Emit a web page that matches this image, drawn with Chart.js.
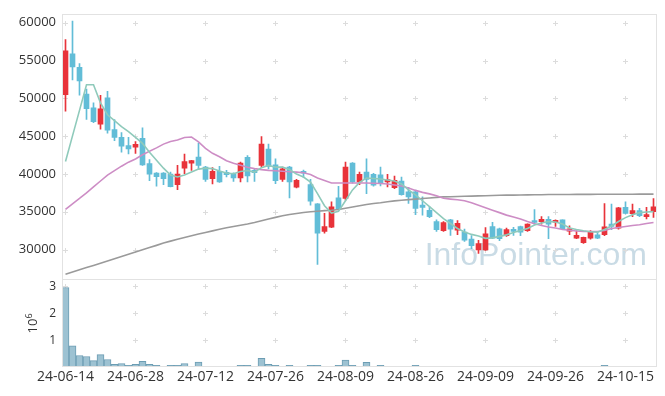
<!DOCTYPE html>
<html>
<head>
<meta charset="utf-8">
<script src="https://cdn.jsdelivr.net/npm/chart.js@4.4.1/dist/chart.umd.min.js"></script>
<style>
  html, body { margin: 0; padding: 0; background: #fff; }
  canvas { display: block; }
</style>
</head>
<body>
<canvas id="chart" width="665" height="396"></canvas>
<script>
// trading days, 24-06-14 .. 24-10-21
const dates = [
  '24-06-14','24-06-17','24-06-18','24-06-19','24-06-20','24-06-21','24-06-24','24-06-25','24-06-26','24-06-27','24-06-28',
  '24-07-01','24-07-02','24-07-03','24-07-04','24-07-05','24-07-08','24-07-09','24-07-10','24-07-11','24-07-12',
  '24-07-15','24-07-16','24-07-17','24-07-18','24-07-19','24-07-22','24-07-23','24-07-24','24-07-25','24-07-26',
  '24-07-29','24-07-30','24-07-31','24-08-01','24-08-02','24-08-05','24-08-06','24-08-07','24-08-08','24-08-09',
  '24-08-12','24-08-13','24-08-14','24-08-16','24-08-19','24-08-20','24-08-21','24-08-22','24-08-23','24-08-26',
  '24-08-27','24-08-28','24-08-29','24-08-30','24-09-02','24-09-03','24-09-04','24-09-05','24-09-06','24-09-09',
  '24-09-10','24-09-11','24-09-12','24-09-13','24-09-19','24-09-20','24-09-23','24-09-24','24-09-25','24-09-26',
  '24-09-27','24-09-30','24-10-02','24-10-04','24-10-07','24-10-08','24-10-10','24-10-11','24-10-14','24-10-15',
  '24-10-16','24-10-17','24-10-18','24-10-21'
];

const openPx = [
  50490,55900,54110,50580,48750,46570,50060,45870,44830,43740,
  43560,44700,41390,40120,40120,39990,38590,40770,41430,42250,
  40900,39370,40340,40210,40030,39470,42210,40470,41130,43300,
  41200,39290,40900,38250,40250,38590,36060,32400,32960,36850,
  36760,41430,38940,40250,39950,39900,38940,38200,39070,37630,
  37630,35890,35200,33710,32490,33930,32570,32310,31390,29960,
  29960,33060,32760,31840,32660,33060,32490,33840,33710,34010,
  33620,33930,32440,31520,30920,31520,31970,31970,33360,32830,
  35580,34760,35150,34360,35020
];
const highPx = [
  57780,60220,54600,51240,49400,50410,50940,47180,45480,44830,
  44270,46100,41910,40200,40200,40250,41130,42640,41800,44080,
  41000,40860,41000,40470,40150,41560,42430,40600,44960,43950,
  41990,40900,41000,39300,40500,39290,36100,34800,36330,38380,
  41560,41500,40250,41990,40100,40900,39950,39730,39600,38250,
  37860,36980,35670,33930,33710,34000,33840,32700,31840,31220,
  32920,33620,32840,32830,32960,33100,33400,35280,34360,34360,
  33950,33950,33150,32490,31650,32530,32400,36100,36020,35600,
  36330,36020,35450,35580,36760
];
const lowPx = [
  48320,52450,50410,47220,46790,45910,45390,44400,42870,42640,
  42730,41130,39110,38380,38590,38290,37930,40030,40470,40680,
  39030,38680,38900,39600,39030,38940,38940,39030,40900,40680,
  38720,39000,36850,38150,39550,35890,28050,32180,32900,35240,
  36550,38800,38590,37410,38400,38420,38290,38070,37200,36100,
  34630,34560,34230,32400,32400,31880,31970,31090,30130,29480,
  29900,31450,31180,31750,31880,31840,32400,33360,33360,31450,
  33060,32700,31970,31450,30830,31390,31450,31840,32620,32700,
  34720,34360,34360,34060,34270
];
const closePx = [
  56300,54150,52320,48620,46920,48620,45780,44830,43690,43300,
  43910,41200,39990,39630,39370,38330,39990,41650,41780,41130,
  39290,40340,38940,39900,39470,41430,39730,40160,43950,41000,
  39110,40680,38940,39160,40100,36420,32180,33060,35670,35370,
  40900,38940,39950,39290,38510,38750,39270,39160,37280,36980,
  35450,35580,34360,32620,33580,32700,33490,31260,30530,30790,
  32100,31520,31450,32660,32400,32310,33360,33580,34010,33360,
  33880,32760,32760,31880,31620,32400,31520,33020,33060,35540,
  34800,35150,34490,34530,35670
];

// volume, millions of shares
const volume = [
  2.96,0.79,0.43,0.39,0.24,0.46,0.28,0.10,0.13,0.06,
  0.10,0.21,0.10,0.06,0.02,0.06,0.06,0.13,0.02,0.18,
  0.02,0.02,0.02,0.02,0.02,0.06,0.06,0.02,0.32,0.10,
  0.06,0.02,0.06,0.02,0.02,0.06,0.06,0.02,0.02,0.06,
  0.26,0.06,0.02,0.17,0.02,0.06,0.02,0,0.02,0.02,
  0.06,0.02,0.02,0.02,0,0,0,0.02,0,0.02,
  0.02,0.02,0,0,0,0,0,0.02,0,0,
  0,0,0,0,0,0,0,0.06,0.02,0.02,
  0.02,0,0,0,0.02
];

// moving averages as drawn on the reference
const ma5 = [
  41650,45040,48410,51800,51800,49400,47830,47050,46270,45610,
  44830,44040,42870,41820,40770,39860,39600,39860,40250,40640,
  40770,40710,40380,40120,40030,40320,40450,40250,40840,41130,
  40900,40900,40580,39990,39600,38940,37410,35800,34830,35080,
  36460,37890,38880,39470,39400,39330,39200,39070,38680,37890,
  37240,36460,35670,34890,34100,33450,32790,32340,32010,31810,
  31490,31550,31750,31950,32270,32530,32790,33250,33510,33710,
  33640,33380,32860,32660,32490,32370,32310,32660,33120,33710,
  34230,34620,34890,34980,35020
];
const ma20 = [
  35320,36060,36760,37500,38290,39070,39860,40450,41030,41560,
  41990,42540,43000,43450,43950,44300,44500,44830,44890,44240,
  43390,42730,42280,41750,41430,41160,40900,40710,40580,40480,
  40420,40360,40300,40250,40170,39920,39460,39140,38810,38810,
  38810,38810,38810,38810,38780,38740,38680,38550,38420,38160,
  37830,37570,37370,37110,36780,36680,36590,36460,36200,35870,
  35540,35210,34890,34560,34300,34040,33710,33410,33190,32990,
  32860,32660,32560,32470,32400,32400,32400,32530,32790,32920,
  33060,33190,33280,33450,33580
];
const ma60 = [
  26740,27030,27330,27620,27910,28210,28500,28800,29090,29390,
  29680,29970,30270,30560,30860,31120,31360,31590,31830,32060,
  32270,32480,32690,32880,33050,33220,33380,33580,33810,34040,
  34260,34470,34650,34780,34900,35000,35080,35150,35210,35300,
  35470,35640,35800,35970,36090,36190,36320,36440,36530,36610,
  36680,36760,36820,36900,36970,36990,37020,37050,37070,37100,
  37120,37150,37180,37200,37210,37230,37240,37250,37260,37280,
  37280,37290,37290,37300,37300,37300,37310,37310,37310,37320,
  37320,37320,37330,37330,37330
];

const priceTicks = [30000, 35000, 40000, 45000, 50000, 55000, 60000];
const volTicks = [1, 2, 3];

const UP = '#e8333a';
const DOWN = '#62bdd7';
const candleColors = closePx.map((c, i) => c >= openPx[i] ? UP : DOWN);

// grid crosses, frame, watermark and the 10^6 axis title
const decorPlugin = {
  id: 'decor',
  beforeDraw(chart) {
    const ctx = chart.ctx;
    ctx.save();
    ctx.fillStyle = '#fff';
    ctx.fillRect(0, 0, chart.width, chart.height);
    ctx.restore();
  },
  beforeDatasetsDraw(chart) {
    const ctx = chart.ctx;
    const xs = chart.scales.x;
    const yp = chart.scales.y;
    const yv = chart.scales.yVol;
    ctx.save();
    // watermark
    ctx.font = '32px "Liberation Sans"';
    ctx.fillStyle = '#c9dbe5';
    ctx.textAlign = 'right';
    ctx.textBaseline = 'alphabetic';
    ctx.fillText('InfoPointer.com', 647, 265);
    // little plus marks where grid lines would cross
    ctx.strokeStyle = '#dcdcdc';
    ctx.lineWidth = 1;
    const cross = (x, y) => {
      x = Math.round(x) - 0.5; y = Math.round(y) + 0.5;
      ctx.beginPath();
      ctx.moveTo(x - 2.5, y); ctx.lineTo(x + 2.5, y);
      ctx.moveTo(x, y - 2.5); ctx.lineTo(x, y + 2.5);
      ctx.stroke();
    };
    for (let i = 0; i < dates.length; i += 10) {
      const x = xs.getPixelForValue(i);
      priceTicks.forEach(v => cross(x, yp.getPixelForValue(v)));
      volTicks.forEach(v => cross(x, yv.getPixelForValue(v)));
    }
    ctx.restore();
  },
  afterDraw(chart) {
    const ctx = chart.ctx;
    const a = chart.chartArea;
    const yp = chart.scales.y;
    ctx.save();
    ctx.strokeStyle = '#e2e2e2';
    ctx.lineWidth = 1;
    ctx.strokeRect(Math.round(a.left) + 0.5, Math.round(a.top) + 0.5,
      Math.round(a.right - a.left) - 1, Math.round(a.bottom - a.top) - 1);
    ctx.beginPath();
    ctx.moveTo(a.left, Math.round(yp.bottom) + 0.5);
    ctx.lineTo(a.right, Math.round(yp.bottom) + 0.5);
    ctx.stroke();
    // 10^6 label for the volume axis
    ctx.fillStyle = '#333';
    ctx.translate(37, 326);
    ctx.rotate(-Math.PI / 2);
    ctx.textAlign = 'center';
    ctx.textBaseline = 'alphabetic';
    ctx.font = '13px "Open Sans"';
    ctx.fillText('10', 0, 0);
    ctx.textAlign = 'left';
    ctx.font = '9px "Open Sans"';
    ctx.fillText('6', 7.5, -5);
    ctx.restore();
  }
};

Chart.defaults.font.family = '"Open Sans", "Liberation Sans", sans-serif';
Chart.defaults.font.size = 13;
Chart.defaults.color = '#333';

new Chart(document.getElementById('chart'), {
  type: 'bar',
  data: {
    labels: dates,
    datasets: [
      {
        type: 'line', label: 'MA5', data: ma5, yAxisID: 'y',
        borderColor: '#8fcabb', borderWidth: 1.6, pointRadius: 0, tension: 0, order: 0
      },
      {
        type: 'line', label: 'MA20', data: ma20, yAxisID: 'y',
        borderColor: '#cd8dc5', borderWidth: 1.6, pointRadius: 0, tension: 0, order: 0
      },
      {
        type: 'line', label: 'MA60', data: ma60, yAxisID: 'y',
        borderColor: '#9a9a9a', borderWidth: 1.6, pointRadius: 0, tension: 0, order: 0
      },
      {
        label: 'wick', yAxisID: 'y', grouped: false, order: 2,
        data: dates.map((_, i) => [lowPx[i], highPx[i]]),
        backgroundColor: candleColors, barThickness: 1
      },
      {
        label: 'body', yAxisID: 'y', grouped: false, order: 1,
        data: dates.map((_, i) => [Math.min(openPx[i], closePx[i]), Math.max(openPx[i], closePx[i])]),
        backgroundColor: candleColors, barThickness: 5, minBarLength: 2
      },
      {
        label: 'volume', yAxisID: 'yVol', grouped: false, order: 3,
        data: volume,
        backgroundColor: '#9dc2d2', borderColor: '#6c9db3', borderWidth: 1,
        barPercentage: 1, categoryPercentage: 1
      }
    ]
  },
  options: {
    responsive: false,
    animation: false,
    layout: { padding: { top: 10, right: 8, left: 0, bottom: 0 } },
    plugins: { legend: { display: false }, tooltip: { enabled: false } },
    scales: {
      x: {
        offset: true,
        grid: { display: false, drawTicks: false },
        border: { display: false },
        ticks: {
          autoSkip: false, maxRotation: 0, minRotation: 0, padding: 2,
          font: { size: 14 },
          callback: (v, i) => (i % 10 === 0 ? dates[i] : '')
        },
        afterFit: (axis) => { axis.height = 29; }
      },
      // left stacks are laid out in reverse order, so the volume pane is listed first
      yVol: {
        position: 'left', stack: 'panes', stackWeight: 89,
        min: 0, max: 3.28,
        grid: { display: false, drawTicks: false },
        border: { display: false },
        ticks: { autoSkip: false, padding: 6, font: { size: 12 }, callback: (v) => String(v) },
        afterBuildTicks: (axis) => { axis.ticks = volTicks.map(v => ({ value: v })); },
        afterFit: (axis) => { axis.width = 62; }
      },
      y: {
        position: 'left', stack: 'panes', stackWeight: 268,
        min: 26120, max: 61180,
        grid: { display: false, drawTicks: false },
        border: { display: false },
        ticks: { autoSkip: false, padding: 6, callback: (v) => String(v) },
        afterBuildTicks: (axis) => { axis.ticks = priceTicks.map(v => ({ value: v })); },
        afterFit: (axis) => { axis.width = 62; }
      }
    }
  },
  plugins: [decorPlugin]
});
</script>
</body>
</html>
